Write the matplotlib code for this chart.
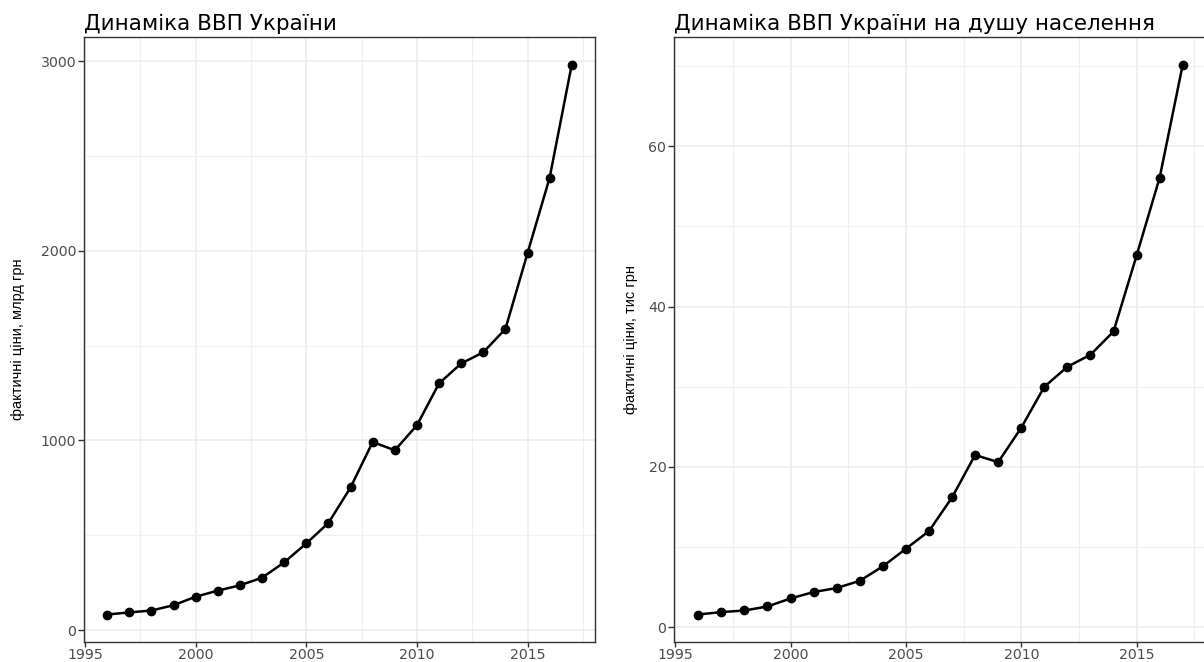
import matplotlib
matplotlib.use("Agg")
import matplotlib.pyplot as plt
from matplotlib.ticker import MultipleLocator

plt.rcParams['font.family'] = ['DejaVu Sans']

years = list(range(1996, 2018))
gdp_bln = [82, 93, 103, 131, 176, 208, 236, 276, 357, 457, 565, 752,
           992, 948, 1080, 1301, 1406, 1465, 1588, 1988, 2386, 2983]
gdp_per_capita = [1.6, 1.9, 2.1, 2.6, 3.6, 4.4, 4.9, 5.8, 7.6, 9.8, 12.0, 16.2,
                  21.5, 20.6, 24.9, 30.0, 32.5, 34.0, 36.9, 46.4, 56.1, 70.2]

titles = ["Динаміка ВВП України", "Динаміка ВВП України на душу населення"]
ylabels = ["фактичні ціни, млрд грн", "фактичні ціни, тис грн"]

W, H = 1204, 662
fig = plt.figure(figsize=(W / 100, H / 100), dpi=100)
fig.patch.set_facecolor("white")


def px_axes(x0, y0, x1, y1):
    return fig.add_axes([x0 / W, 1 - y1 / H, (x1 - x0) / W, (y1 - y0) / H])


def expand(lo, hi):
    d = (hi - lo) * 0.05
    return lo - d, hi + d


def draw_panel(ax, values, title, ylabel, major, minor, label_x):
    ax.plot(years, values, color="black", lw=1.8, marker="o", ms=6, zorder=3)
    ax.set_xlim(*expand(min(years), max(years)))
    ax.set_ylim(*expand(min(values), max(values)))
    ax.xaxis.set_major_locator(MultipleLocator(5))
    ax.xaxis.set_minor_locator(MultipleLocator(2.5))
    ax.yaxis.set_major_locator(MultipleLocator(major))
    ax.yaxis.set_minor_locator(MultipleLocator(minor))
    ax.grid(which="major", color="#EBEBEB", lw=1.1, zorder=0)
    ax.grid(which="minor", color="#F0F0F0", lw=0.9, zorder=0)
    ax.set_axisbelow(True)
    for s in ax.spines.values():
        s.set_color("#333333")
        s.set_linewidth(1.0)
    ax.tick_params(which="major", length=4, width=1, color="#333333",
                   labelcolor="#4D4D4D", labelsize=10.2, pad=1.5)
    ax.tick_params(axis="x", which="major", length=3.5, pad=0.5)
    ax.tick_params(which="minor", length=0)
    ax.set_title(title, loc="left", fontsize=15.5, color="black", pad=5)
    ax.set_ylabel(ylabel, fontsize=10.5, family=["Liberation Sans"])
    ax.yaxis.set_label_coords(label_x, 0.5)


ax1 = px_axes(84, 37, 595, 642)
draw_panel(ax1, gdp_bln, titles[0], ylabels[0], 1000, 500, -0.1155)

ax2 = px_axes(674, 37, 1207, 642)
draw_panel(ax2, gdp_per_capita, titles[1], ylabels[1], 20, 10, -0.0675)

fig.savefig("out.png", dpi=100)
